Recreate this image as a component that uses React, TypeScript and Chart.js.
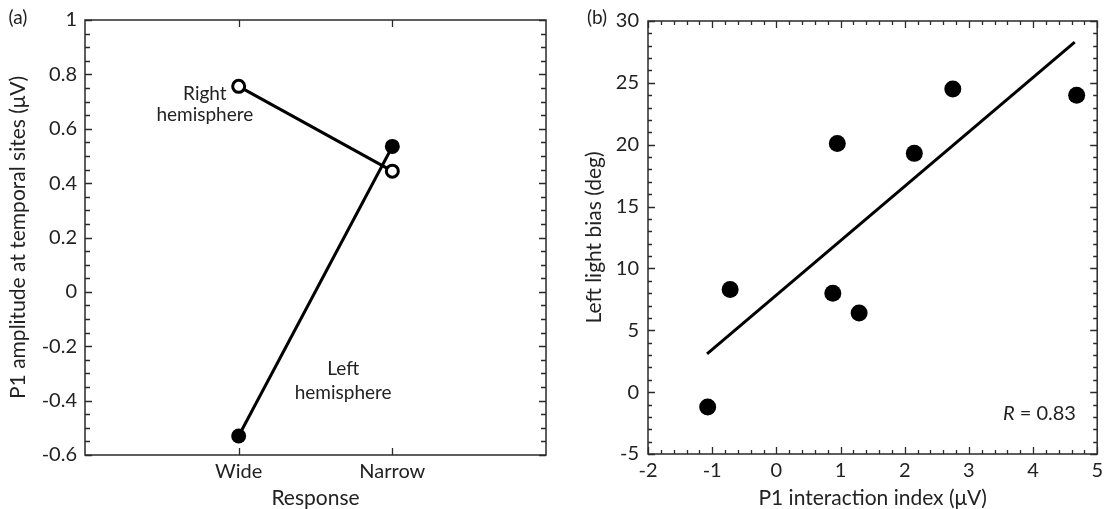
import React, { useEffect, useRef } from 'react';
import { Chart, registerables } from 'chart.js';

Chart.register(...registerables);

// ---------- Panel (a) data ----------
const responseCategories = ['', 'Wide', 'Narrow', ''];
const responsePositions = [1, 2];
const rightHemisphere = [0.756, 0.444];
const leftHemisphere = [-0.53, 0.535];

// ---------- Panel (b) data ----------
const interactionIndex = [-1.07, -0.72, 0.88, 0.95, 1.29, 2.15, 2.75, 4.68];
const leftLightBias = [-1.2, 8.3, 8.0, 20.1, 6.4, 19.3, 24.5, 24.0];
const fitX = [-1.08, 4.65];
const fitY = [3.1, 28.3];

const FONT = 'Lato, "Open Sans", sans-serif';
const TEXT = '#222';
const TICK_SIZE = 20;
const TITLE_SIZE = 21;
const NOTE_SIZE = 19;

function range(a: number, b: number, s: number) {
  const out: number[] = [];
  const n = Math.round((b - a) / s);
  for (let i = 0; i <= n; i++) out.push(+(a + i * s).toFixed(6));
  return out;
}

function drawFrame(chart: any, cfg: any) {
  const { ctx, chartArea: a, scales } = chart;
  const x = scales.x;
  const y = scales.y;
  ctx.save();
  ctx.strokeStyle = '#2a2a2a';
  ctx.lineWidth = 1.5;
  ctx.strokeRect(a.left, a.top, a.right - a.left, a.bottom - a.top);
  ctx.lineWidth = 1.3;
  ctx.beginPath();
  const xt = (vals: number[], len: number) => {
    vals.forEach((v) => {
      const p = Math.round(x.getPixelForValue(v)) + 0.5;
      ctx.moveTo(p, a.bottom);
      ctx.lineTo(p, a.bottom - len);
      ctx.moveTo(p, a.top);
      ctx.lineTo(p, a.top + len);
    });
  };
  const yt = (vals: number[], len: number) => {
    vals.forEach((v) => {
      const p = Math.round(y.getPixelForValue(v)) + 0.5;
      ctx.moveTo(a.left, p);
      ctx.lineTo(a.left + len, p);
      ctx.moveTo(a.right, p);
      ctx.lineTo(a.right - len, p);
    });
  };
  xt(cfg.xMinor, cfg.minorLen);
  xt(cfg.xMajor, cfg.majorLen);
  yt(cfg.yMinor, cfg.minorLen);
  yt(cfg.yMajor, cfg.majorLen);
  ctx.stroke();
  ctx.restore();
}

function drawText(chart: any, items: { x: number; y: number; text: string }[]) {
  const { ctx, scales } = chart;
  ctx.save();
  ctx.fillStyle = TEXT;
  ctx.font = `${NOTE_SIZE}px ${FONT}`;
  ctx.textAlign = 'center';
  ctx.textBaseline = 'middle';
  items.forEach((it) => {
    ctx.fillText(it.text, scales.x.getPixelForValue(it.x), scales.y.getPixelForValue(it.y));
  });
  ctx.restore();
}

const tickFont = { family: FONT, size: TICK_SIZE };
const titleFont = { family: FONT, size: TITLE_SIZE, lineHeight: 1 };

function PanelA() {
  const ref = useRef<HTMLCanvasElement>(null);
  useEffect(() => {
    const chart = new Chart(ref.current!, {
      type: 'line',
      data: {
        datasets: [
          {
            label: 'Right hemisphere',
            data: responsePositions.map((p, i) => ({ x: p, y: rightHemisphere[i] })),
            borderColor: '#000',
            borderWidth: 3,
            pointStyle: 'circle',
            pointRadius: 6,
            pointBorderWidth: 3,
            pointBackgroundColor: '#fff',
            pointBorderColor: '#000',
          },
          {
            label: 'Left hemisphere',
            data: responsePositions.map((p, i) => ({ x: p, y: leftHemisphere[i] })),
            borderColor: '#000',
            borderWidth: 3,
            pointStyle: 'circle',
            pointRadius: 7.5,
            pointBorderWidth: 0,
            pointBackgroundColor: '#000',
            pointBorderColor: '#000',
          },
        ],
      },
      options: {
        animation: false,
        responsive: false,
        layout: { padding: { top: 17, right: 14, left: 0, bottom: 0 } },
        plugins: { legend: { display: false }, tooltip: { enabled: false } },
        scales: {
          x: {
            type: 'linear',
            min: 0,
            max: 3,
            grid: { display: false, drawTicks: false },
            border: { display: false },
            ticks: {
              stepSize: 1,
              padding: 5,
              color: TEXT,
              font: tickFont,
              callback: (v: any) => responseCategories[Math.round(v)] ?? '',
            },
            title: {
              display: true,
              text: 'Response',
              color: TEXT,
              font: titleFont,
              padding: { top: 0, bottom: 0 },
            },
            afterFit: (s: any) => {
              s.height = 54;
            },
          },
          y: {
            type: 'linear',
            min: -0.6,
            max: 1,
            grid: { display: false, drawTicks: false },
            border: { display: false },
            ticks: {
              stepSize: 0.2,
              padding: 8,
              color: TEXT,
              font: tickFont,
              callback: (v: any) => String(+(+v).toFixed(1)),
            },
            title: {
              display: true,
              text: 'P1 amplitude at temporal sites (\u03bcV)',
              color: TEXT,
              font: titleFont,
              padding: { top: 8, bottom: 0 },
            },
            afterFit: (s: any) => {
              s.width = 85;
            },
          },
        },
      },
      plugins: [
        {
          id: 'frameA',
          afterDraw(chart: any) {
            drawFrame(chart, {
              xMajor: responsePositions,
              xMinor: [],
              yMajor: range(-0.6, 1, 0.2),
              yMinor: range(-0.6, 1, 0.05),
              majorLen: 7,
              minorLen: 5,
            });
            drawText(chart, [
              { x: 0.78, y: 0.727, text: 'Right' },
              { x: 0.78, y: 0.65, text: 'hemisphere' },
              { x: 1.68, y: -0.284, text: 'Left' },
              { x: 1.68, y: -0.371, text: 'hemisphere' },
            ]);
            const ctx = chart.ctx;
            ctx.save();
            ctx.fillStyle = TEXT;
            ctx.font = `${NOTE_SIZE}px ${FONT}`;
            ctx.textAlign = 'center';
            ctx.textBaseline = 'middle';
            ctx.fillText('(a)', 18, 18);
            ctx.restore();
          },
        },
      ],
    } as any);
    return () => chart.destroy();
  }, []);
  return <canvas ref={ref} width={560} height={509} style={{ position: 'absolute', left: 0, top: 0 }} />;
}

function PanelB() {
  const ref = useRef<HTMLCanvasElement>(null);
  useEffect(() => {
    const chart = new Chart(ref.current!, {
      type: 'scatter',
      data: {
        datasets: [
          {
            label: 'Fit',
            type: 'line',
            data: fitX.map((x, i) => ({ x, y: fitY[i] })),
            borderColor: '#000',
            borderWidth: 3,
            pointRadius: 0,
          },
          {
            label: 'Subjects',
            data: interactionIndex.map((x, i) => ({ x, y: leftLightBias[i] })),
            pointRadius: 8.5,
            pointBorderWidth: 0,
            pointBackgroundColor: '#000',
            pointBorderColor: '#000',
          },
        ],
      },
      options: {
        animation: false,
        responsive: false,
        layout: { padding: { top: 17, right: 5, left: 0, bottom: 0 } },
        plugins: { legend: { display: false }, tooltip: { enabled: false } },
        scales: {
          x: {
            type: 'linear',
            min: -2,
            max: 5,
            grid: { display: false, drawTicks: false },
            border: { display: false },
            ticks: {
              stepSize: 1,
              padding: 5,
              color: TEXT,
              font: tickFont,
              callback: (v: any) => String(v),
            },
            title: {
              display: true,
              text: 'P1 interaction index (\u03bcV)',
              color: TEXT,
              font: titleFont,
              padding: { top: 0, bottom: 0 },
            },
            afterFit: (s: any) => {
              s.height = 55;
            },
          },
          y: {
            type: 'linear',
            min: -5,
            max: 30,
            grid: { display: false, drawTicks: false },
            border: { display: false },
            ticks: {
              stepSize: 5,
              padding: 9,
              color: TEXT,
              font: tickFont,
              callback: (v: any) => String(v),
            },
            title: {
              display: true,
              text: 'Left light bias (deg)',
              color: TEXT,
              font: titleFont,
              padding: { top: 4, bottom: 0 },
            },
            afterFit: (s: any) => {
              s.width = 68;
            },
          },
        },
      },
      plugins: [
        {
          id: 'frameB',
          afterDraw(chart: any) {
            drawFrame(chart, {
              xMajor: range(-2, 5, 1),
              xMinor: range(-2, 5, 0.2),
              yMajor: range(-5, 30, 5),
              yMinor: range(-5, 30, 1),
              majorLen: 7,
              minorLen: 4,
            });
            const { ctx, scales } = chart;
            ctx.save();
            ctx.fillStyle = TEXT;
            ctx.textBaseline = 'middle';
            const px = scales.x.getPixelForValue(4.1);
            const py = scales.y.getPixelForValue(-1.7);
            ctx.font = `italic 20px ${FONT}`;
            const rW = ctx.measureText('R').width;
            ctx.font = `20px ${FONT}`;
            const restW = ctx.measureText(' = 0.83').width;
            const start = px - (rW + restW) / 2;
            ctx.textAlign = 'left';
            ctx.font = `italic 20px ${FONT}`;
            ctx.fillText('R', start, py);
            ctx.font = `20px ${FONT}`;
            ctx.fillText(' = 0.83', start + rW, py);
            ctx.textAlign = 'center';
            ctx.font = `${NOTE_SIZE}px ${FONT}`;
            ctx.fillText('(b)', 17, 18);
            ctx.restore();
          },
        },
      ],
    } as any);
    return () => chart.destroy();
  }, []);
  return <canvas ref={ref} width={528} height={509} style={{ position: 'absolute', left: 580, top: 0 }} />;
}

export default function App() {
  return (
    <div style={{ position: 'absolute', left: 0, top: 0, width: 1108, height: 509, background: '#fff', overflow: 'hidden' }}>
      <PanelA />
      <PanelB />
    </div>
  );
}
